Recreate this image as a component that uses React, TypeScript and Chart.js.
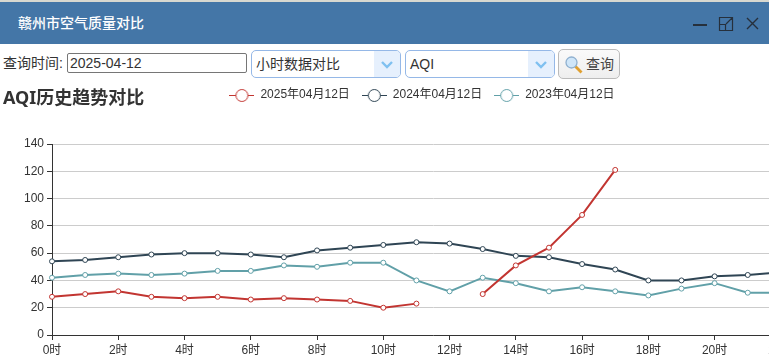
import React, { useEffect, useRef } from "react";
import { Chart, registerables } from "chart.js";

Chart.register(...registerables);

const hours = ["0时","1时","2时","3时","4时","5时","6时","7时","8时","9时","10时","11时","12时","13时","14时","15时","16时","17时","18时","19时","20时","21时","22时","23时"];
const series2025 = [28,30,32,28,27,28,26,27,26,25,20,23,null,30,51,64,88,121];
const series2024 = [54,55,57,59,60,60,59,57,62,64,66,68,67,63,58,57,52,48,40,40,43,44,46,45];
const series2023 = [42,44,45,44,45,47,47,51,50,53,53,40,32,42,38,32,35,32,29,34,38,31,31,30];
const names = ["2025年04月12日","2024年04月12日","2023年04月12日"];
const colors = ["#c23531","#2f4554","#61a0a8"];
const FONT = "'Liberation Sans','Noto Sans CJK SC',sans-serif";

function legendIcon(color: string) {
  const c = document.createElement("canvas");
  c.width = 25; c.height = 14;
  const g = c.getContext("2d")!;
  g.strokeStyle = color; g.lineWidth = 1;
  g.beginPath(); g.moveTo(0, 7.5); g.lineTo(25, 7.5); g.stroke();
  g.fillStyle = "#fff"; g.lineWidth = 1;
  g.beginPath(); g.arc(12.5, 7.5, 6, 0, Math.PI * 2); g.fill(); g.stroke();
  return c;
}

const legendSpacer = {
  id: "legendSpacer",
  beforeInit(chart: any) {
    const orig = chart.legend.fit;
    chart.legend.fit = function () { orig.call(this); this.height = 67; };
  },
  afterLayout(chart: any) {
    chart.legend.left = 30;
    chart.legend.right = 814;
  },
};

const box = (s: React.CSSProperties): React.CSSProperties => ({ position: "absolute", boxSizing: "border-box", ...s });

function Combo({ left, width, text }: { left: number; width: number; text: string }) {
  return (
    <div style={box({ left, top: 50, width, height: 28, border: "1px solid #95b8e7", borderRadius: 5, background: "#fff", overflow: "hidden" })}>
      <span style={{ position: "absolute", left: 4, top: 3, fontSize: 14, lineHeight: "20px", color: "#333" }}>{text}</span>
      <div style={box({ right: 0, top: 0, width: 26, height: 26, background: "#e6f0fd" })}>
        <svg width="26" height="26"><path d="M8 11 L13 16 L18 11" fill="none" stroke="#7fc0f0" strokeWidth="2.4" /></svg>
      </div>
    </div>
  );
}

export default function App() {
  const ref = useRef<HTMLCanvasElement>(null);
  useEffect(() => {
    document.body.style.margin = "0";
    const chart = new Chart(ref.current!, {
      type: "line",
      data: {
        labels: hours,
        datasets: [series2025, series2024, series2023].map((d, i) => ({
          label: names[i],
          data: d,
          borderColor: colors[i],
          backgroundColor: "#fff",
          borderWidth: 2,
          pointRadius: 2.5,
          pointBorderWidth: 1,
          pointBackgroundColor: "#fff",
          pointBorderColor: colors[i],
          tension: 0,
          spanGaps: false,
        })),
      },
      options: {
        animation: false,
        responsive: false,
        layout: { padding: { left: 0, right: 32, top: 0, bottom: 0 } },
        plugins: {
          title: { display: false },
          tooltip: { enabled: false },
          legend: {
            display: true,
            position: "top",
            align: "center",
            labels: {
              usePointStyle: true,
              pointStyleWidth: 25,
              padding: 12,
              color: "#333",
              font: { size: 12, family: FONT },
              generateLabels: (c: any) =>
                c.data.datasets.map((ds: any, i: number) => ({
                  text: ds.label,
                  fontColor: "#333",
                  pointStyle: legendIcon(colors[i]),
                  fillStyle: "#fff",
                  strokeStyle: colors[i],
                  lineWidth: 1,
                  datasetIndex: i,
                })),
            },
          },
        },
        scales: {
          x: {
            type: "category",
            offset: false,
            afterBuildTicks: (s: any) => { s.ticks = s.ticks.filter((t: any) => t.value % 2 === 0); },
            afterFit: (s: any) => { s.height = 22; },
            grid: { drawOnChartArea: false, drawTicks: true, tickLength: 5, color: "#333", lineWidth: 1 },
            border: { display: true, color: "#333", width: 1 },
            ticks: {
              autoSkip: false,
              maxRotation: 0,
              padding: 3,
              color: "#333",
              font: { size: 12, family: FONT },
            },
          },
          y: {
            min: 0,
            max: 140,
            afterFit: (s: any) => { s.width = 52; },
            grid: { color: "#ccc", lineWidth: 1, tickLength: 5, tickColor: "#333" },
            border: { display: true, color: "#333", width: 1 },
            ticks: { stepSize: 20, padding: 3, color: "#333", font: { size: 12, family: FONT } },
          },
        },
      },
      plugins: [legendSpacer],
    } as any);
    return () => chart.destroy();
  }, []);

  return (
    <div style={{ position: "relative", width: 769, height: 357, overflow: "hidden", background: "#fff", fontFamily: FONT, color: "#333" }}>
      <div style={box({ left: 0, top: 0, width: 769, height: 2, background: "#d8d8d0" })} />
      <div style={box({ left: 0, top: 2, width: 769, height: 42, background: "#4476a7" })}>
        <span style={{ position: "absolute", left: 18, top: 11, fontSize: 14, lineHeight: "20px", color: "#fff", fontWeight: 500 }}>赣州市空气质量对比</span>
        <svg style={{ position: "absolute", left: 690, top: 12 }} width="70" height="20">
          <path d="M3 11 H17" stroke="#26303c" strokeWidth="2" />
          <path d="M29.5 3.5 H42.5 V16.5 H35.5 V10.5 H29.5 Z M29.5 10.5 V16.5 H35.5 M36 10 L42 4 M38 3.5 H42.5 V8" fill="none" stroke="#26303c" strokeWidth="1.2" />
          <path d="M57 4 L68 15 M68 4 L57 15" stroke="#26303c" strokeWidth="1.4" />
        </svg>
      </div>

      <span style={{ position: "absolute", left: 3, top: 53, fontSize: 14, lineHeight: "20px" }}>查询时间:</span>
      <input readOnly value="2025-04-12" style={box({ position: "absolute", left: 67, top: 53, width: 180, height: 20, border: "1px solid #767676", borderRadius: 2, padding: "0 2px", fontFamily: FONT, fontSize: 14, color: "#333", outline: "none" })} />
      <Combo left={251} width={150} text="小时数据对比" />
      <Combo left={405} width={150} text="AQI" />
      <div style={box({ left: 558, top: 49, width: 62, height: 30, border: "1px solid #bbb", borderRadius: 5, background: "linear-gradient(#fafafa,#eee)" })}>
        <svg style={{ position: "absolute", left: 5, top: 5 }} width="20" height="20">
          <line x1="11" y1="11" x2="17.5" y2="17.5" stroke="#e0a030" strokeWidth="2.8" />
          <circle cx="7.5" cy="7.5" r="5.5" fill="#cfe6f9" stroke="#8fb0cf" strokeWidth="1.3" />
        </svg>
        <span style={{ position: "absolute", left: 27, top: 4, fontSize: 14, lineHeight: "20px", color: "#444" }}>查询</span>
      </div>

      <div style={box({ left: 3, top: 85, fontFamily: "'Noto Sans','Noto Sans CJK SC',sans-serif", fontSize: 18, lineHeight: "24px", fontWeight: 700, zIndex: 2, whiteSpace: "nowrap" })}>AQI历史趋势对比</div>
      <canvas ref={ref} width={846} height={280} style={{ position: "absolute", left: 0, top: 77, width: 846, height: 280 }} />
    </div>
  );
}
